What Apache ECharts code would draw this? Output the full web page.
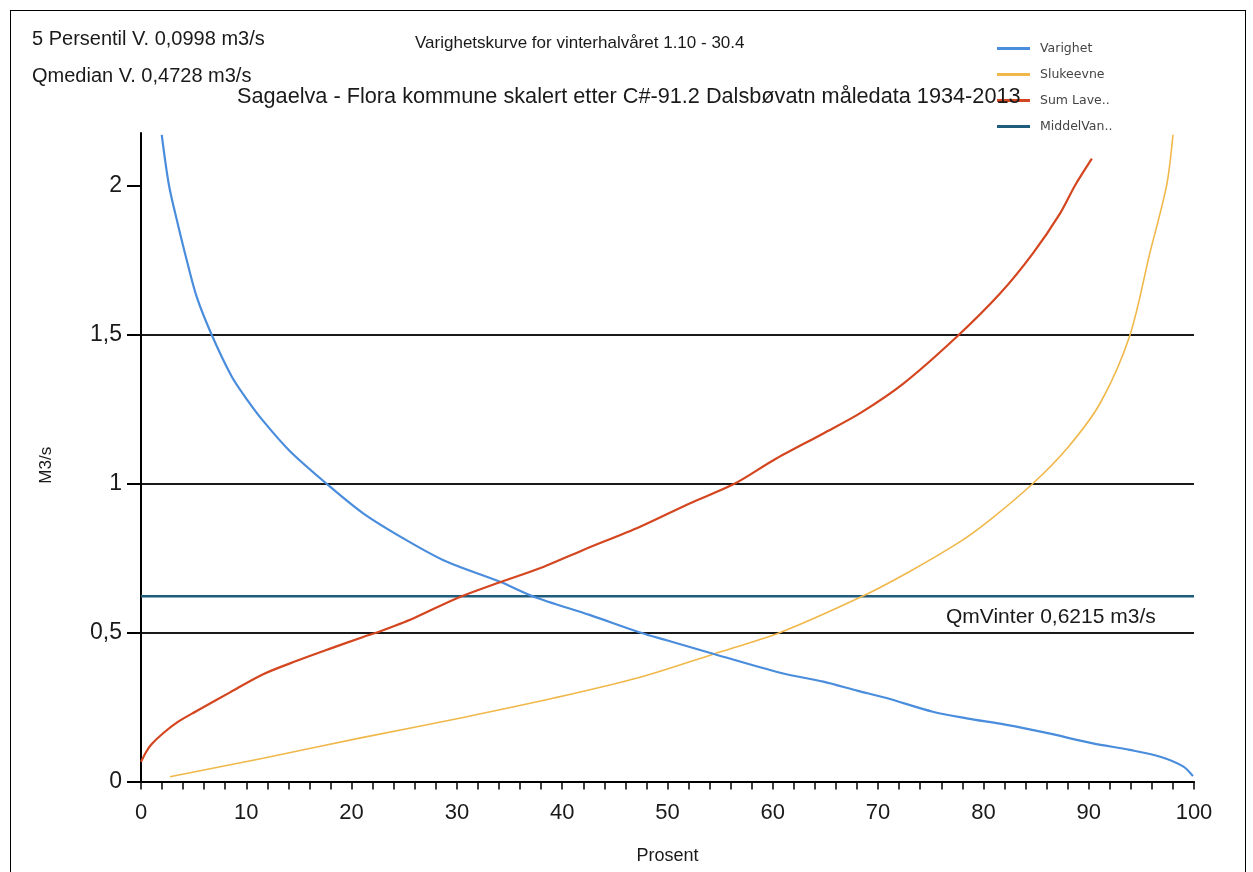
<!DOCTYPE html>
<html><head><meta charset="utf-8">
<script src="https://cdn.jsdelivr.net/npm/echarts@6/dist/echarts.min.js"></script>
<style>
html,body{margin:0;padding:0;background:#fff;overflow:hidden;}
#c{position:absolute;left:0;top:0;width:1253px;height:872px;}
#frame{position:absolute;left:10px;top:10px;width:1234px;height:900px;border:1px solid #000;pointer-events:none;}
</style></head><body>
<div id="c"></div><div id="frame"></div>
<script>
const titleMain = 'Varighetskurve for vinterhalvåret 1.10 - 30.4';
const titleSub = 'Sagaelva - Flora kommune skalert etter C#-91.2 Dalsbøvatn måledata 1934-2013';
const percentile5 = 0.0998;
const qMedian = 0.4728;
const qmVinter = 0.6215;
const xName = 'Prosent';
const yName = 'M3/s';
const seriesNames = ['Varighet', 'Slukeevne', 'Sum Lave..', 'MiddelVan..'];
const yTicks = [0, 0.5, 1, 1.5, 2];

const varighetX = [1.97, 2.66, 3.5, 4.34, 5.3, 6.7, 8.6, 10.0, 11.6, 14.1, 17.6, 21.1, 25.2, 29.0, 34.1, 37.3, 42.6, 47.4, 50.0, 54.4, 60.7, 64.8, 68.0, 70.8, 75.2, 78.4, 82.2, 86.0, 90.4, 93.9, 96.8, 99.0, 99.9];
const varighetY = [2.17, 2.0, 1.87, 1.75, 1.625, 1.5, 1.36, 1.285, 1.21, 1.11, 1.0, 0.90, 0.81, 0.738, 0.67, 0.62, 0.559, 0.50, 0.473, 0.428, 0.365, 0.335, 0.305, 0.28, 0.234, 0.212, 0.19, 0.163, 0.128, 0.106, 0.083, 0.050, 0.018];

const slukeX = [2.75, 11.6, 21.1, 30.6, 39.2, 47.4, 54.4, 60.7, 68.3, 72.7, 77.8, 80.6, 84.7, 88.0, 91.1, 93.9, 95.8, 97.4, 98.0];
const slukeY = [0.016, 0.078, 0.148, 0.215, 0.28, 0.35, 0.428, 0.50, 0.618, 0.699, 0.805, 0.877, 1.0, 1.12, 1.27, 1.496, 1.772, 2.0, 2.17];

const sumX = [0, 0.5, 1, 2.1, 3.5, 5.2, 8.5, 11.6, 14.8, 17.9, 21.1, 22.4, 25.9, 30, 33.8, 38.2, 42, 47.4, 52.1, 56.3, 60.1, 64.8, 68.3, 72.4, 77.5, 81.6, 84.7, 87.3, 88.7, 90.3];
const sumY = [0.066, 0.1, 0.125, 0.162, 0.2, 0.235, 0.30, 0.36, 0.405, 0.445, 0.485, 0.50, 0.548, 0.615, 0.665, 0.72, 0.777, 0.855, 0.933, 0.998, 1.079, 1.168, 1.236, 1.335, 1.493, 1.638, 1.772, 1.907, 2.0, 2.09];

const middelX = [0, 100];
const middelY = [qmVinter, qmVinter];

const colors = ['#4a8ddc', '#f0b84a', '#d4461f', '#1f5b7a'];
const FONT = 'Liberation Sans';
const fmt = v => String(v).replace('.', ',');
const pairs = (xs, ys) => xs.map((x, i) => [x, ys[i]]);

const chart = echarts.init(document.getElementById('c'), null, {renderer: 'canvas'});
chart.setOption({
  animation: false,
  backgroundColor: '#fff',
  color: colors,
  textStyle: {fontFamily: FONT, color: '#1a1a1a'},
  title: [
    {text: '5 Persentil V. ' + fmt(percentile5) + ' m3/s', left: 27, top: 24, textStyle: {fontFamily: FONT, fontSize: 20, fontWeight: 'normal', color: '#1a1a1a'}},
    {text: 'Qmedian V. ' + fmt(qMedian) + ' m3/s', left: 27, top: 61, textStyle: {fontFamily: FONT, fontSize: 20, fontWeight: 'normal', color: '#1a1a1a'}},
    {text: titleMain, left: 410, top: 30, textStyle: {fontFamily: FONT, fontSize: 17, fontWeight: 'normal', color: '#1a1a1a'}},
    {text: titleSub, left: 232, top: 81, textStyle: {fontFamily: FONT, fontSize: 21.7, fontWeight: 'normal', color: '#1a1a1a'}},
    {text: 'QmVinter ' + fmt(qmVinter) + ' m3/s', left: 941, top: 602, textStyle: {fontFamily: FONT, fontSize: 21, fontWeight: 'normal', color: '#1a1a1a'}}
  ],
  legend: {
    orient: 'vertical', left: 992, top: 37,
    icon: 'rect', itemWidth: 33, itemHeight: 3, itemGap: 13,
    textStyle: {fontFamily: 'DejaVu Sans', fontSize: 12.5, color: '#444', padding: [0, 0, 0, 5]},
    data: seriesNames
  },
  grid: {left: 141, right: 59, top: 133, bottom: 90.5, containLabel: false},
  xAxis: {
    type: 'value', min: 0, max: 100, interval: 10,
    name: xName, nameLocation: 'middle', nameGap: 66,
    nameTextStyle: {fontFamily: FONT, fontSize: 18, color: '#1a1a1a'},
    axisLine: {show: true, onZero: false, lineStyle: {color: '#000', width: 2}},
    axisTick: {show: true, length: 8, lineStyle: {color: '#000', width: 1.5}},
    minorTick: {show: true, splitNumber: 5, length: 8, lineStyle: {color: '#000', width: 1.5}},
    axisLabel: {fontFamily: FONT, fontSize: 22, color: '#1a1a1a', margin: 20},
    splitLine: {show: false}
  },
  yAxis: {
    type: 'value', min: 0, max: 2.176, interval: 0.5,
    name: yName, nameLocation: 'middle', nameGap: 86,
    nameTextStyle: {fontFamily: FONT, fontSize: 17, color: '#1a1a1a', padding: [0, 16, 0, 0]},
    axisLine: {show: true, onZero: false, lineStyle: {color: '#000', width: 2}},
    axisTick: {show: true, length: 14, customValues: yTicks, lineStyle: {color: '#000', width: 2}},
    axisLabel: {fontFamily: FONT, fontSize: 23, color: '#1a1a1a', margin: 19, customValues: yTicks,
      formatter: v => fmt(v)},
    splitLine: {show: true, showMinLine: false, showMaxLine: false, lineStyle: {color: '#1a1a1a', width: 2}}
  },
  series: [
    {name: seriesNames[0], type: 'line', data: pairs(varighetX, varighetY), showSymbol: false, smooth: 0.3,
     lineStyle: {width: 2.2, color: colors[0]}, z: 4},
    {name: seriesNames[1], type: 'line', data: pairs(slukeX, slukeY), showSymbol: false, smooth: 0.3,
     lineStyle: {width: 1.6, color: colors[1]}, z: 3},
    {name: seriesNames[2], type: 'line', data: pairs(sumX, sumY), showSymbol: false, smooth: 0.3,
     lineStyle: {width: 2.2, color: colors[2]}, z: 5},
    {name: seriesNames[3], type: 'line', data: pairs(middelX, middelY), showSymbol: false,
     lineStyle: {width: 2.5, color: colors[3]}, z: 2}
  ]
});
</script>
</body></html>
